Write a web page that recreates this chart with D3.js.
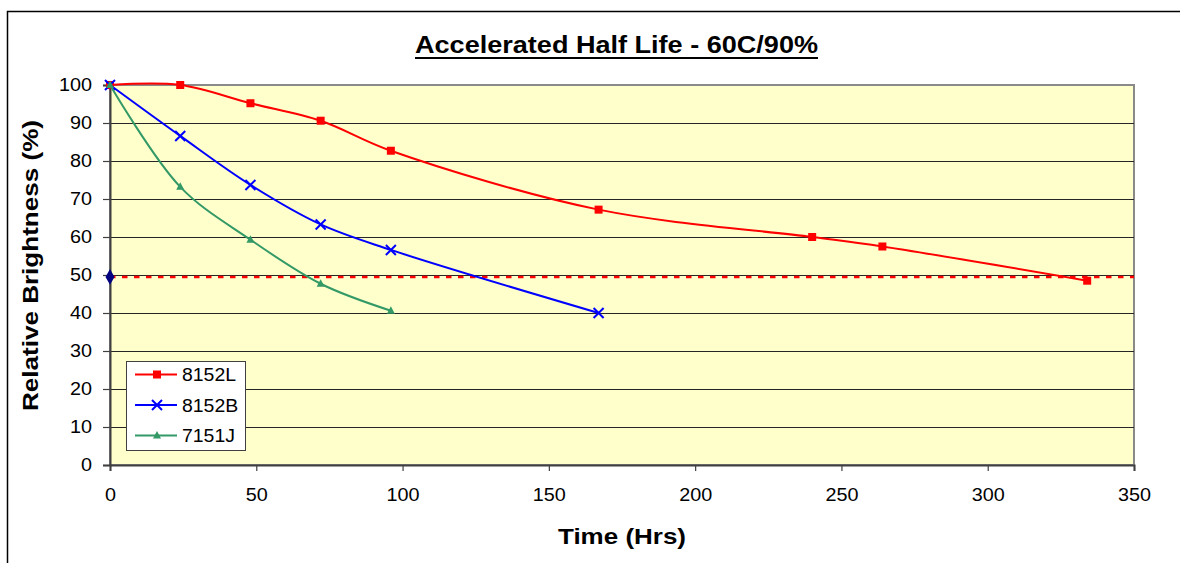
<!DOCTYPE html>
<html>
<head>
<meta charset="utf-8">
<script src="https://cdn.jsdelivr.net/npm/d3@7"></script>
<style>
  html, body { margin: 0; padding: 0; background: #fff; }
  svg { display: block; font-family: "Liberation Sans", Arial, sans-serif; }
</style>
</head>
<body>
<svg id="chart" width="1184" height="563"></svg>
<script>
// Brightness readings (%) against time (hours) for each part
const hours8152L = [0, 24, 48, 72, 96, 167, 240, 264, 334];
const values8152L = [100, 100, 95.2, 90.6, 82.7, 67.2, 60, 57.5, 48.5];

const hours8152B = [0, 24, 48, 72, 96, 167];
const values8152B = [100, 86.6, 73.7, 63.3, 56.6, 40];

const hours7151J = [0, 24, 48, 72, 96];
const values7151J = [100, 73.2, 59.3, 47.7, 40.6];

const seriesNames = ["8152L", "8152B", "7151J"];
const seriesColors = ["#FF0000", "#0000FF", "#339966"];
const seriesMarkers = ["square", "cross", "triangle"];

// Half-brightness reference level
const halfLife = 49.5;

const xTicks = [0, 50, 100, 150, 200, 250, 300, 350];
const yTicks = [0, 10, 20, 30, 40, 50, 60, 70, 80, 90, 100];

const titleText = "Accelerated Half Life - 60C/90%";
const xLabel = "Time (Hrs)";
const yLabel = "Relative Brightness (%)";

const series = [
  { name: seriesNames[0], xs: hours8152L, ys: values8152L },
  { name: seriesNames[1], xs: hours8152B, ys: values8152B },
  { name: seriesNames[2], xs: hours7151J, ys: values7151J }
].map((s, i) => ({
  ...s,
  color: seriesColors[i],
  marker: seriesMarkers[i],
  points: s.xs.map((x, j) => [x, s.ys[j]])
}));

const svg = d3.select("#chart");
const plot = { left: 110, top: 85, right: 1134, bottom: 465 };

const x = d3.scaleLinear().domain([0, 350]).range([plot.left, plot.right]);
const y = d3.scaleLinear().domain([0, 100]).range([plot.bottom, plot.top]);

// Text in this chart is set slightly wide
function widen(sel, factor) {
  sel.each(function () {
    const w = this.getComputedTextLength();
    d3.select(this).attr("textLength", w * factor).attr("lengthAdjust", "spacingAndGlyphs");
  });
}

// Chart area frame
svg.append("path")
  .attr("d", "M7.5,563V11.5H1180")
  .attr("fill", "none").attr("stroke", "#000").attr("stroke-width", 1.5);

// Plot area
svg.append("rect")
  .attr("x", plot.left).attr("y", plot.top)
  .attr("width", plot.right - plot.left).attr("height", plot.bottom - plot.top)
  .attr("fill", "#FFFFCC").attr("stroke", "#8a8a8a").attr("stroke-width", 2);

// Horizontal gridlines
svg.append("g")
  .selectAll("line")
  .data(yTicks.filter(t => t > 0 && t < 100))
  .join("line")
  .attr("x1", plot.left).attr("x2", plot.right)
  .attr("y1", d => Math.round(y(d)) + 0.5).attr("y2", d => Math.round(y(d)) + 0.5)
  .attr("stroke", "#262626").attr("stroke-width", 1.2);

// Axes
const yAxis = svg.append("g")
  .attr("transform", `translate(${plot.left},0)`)
  .call(d3.axisLeft(y).tickValues(yTicks).tickSize(7).tickPadding(11).tickFormat(d3.format("d")));
const xAxis = svg.append("g")
  .attr("transform", `translate(0,${plot.bottom})`)
  .call(d3.axisBottom(x).tickValues(xTicks).tickSize(6).tickPadding(17).tickFormat(d3.format("d")));

[yAxis, xAxis].forEach(g => {
  g.select(".domain").attr("stroke", "#404040").attr("stroke-width", 2);
  g.selectAll(".tick line").attr("stroke", "#404040").attr("stroke-width", 1.2);
  g.selectAll(".tick text")
    .attr("fill", "#000")
    .style("font-size", "18px")
    .style("font-family", "'Liberation Sans', Arial, sans-serif");
  widen(g.selectAll(".tick text"), 1.1);
});

// Half-life reference line
svg.append("line")
  .attr("x1", plot.left).attr("x2", plot.right)
  .attr("y1", y(halfLife)).attr("y2", y(halfLife))
  .attr("stroke", "#FF0000").attr("stroke-width", 2.5)
  .attr("stroke-dasharray", "5.5,6.5");

svg.append("path")
  .attr("d", d3.symbol(d3.symbolDiamond, 70)())
  .attr("transform", `translate(${x(0)},${y(halfLife)})`)
  .attr("fill", "#000080");

// Smoothed series lines
const line = d3.line()
  .x(d => x(d[0]))
  .y(d => y(d[1]))
  .curve(d3.curveCatmullRom.alpha(0.5));

function drawMarker(g, type, color, cx, cy) {
  if (type === "square") {
    g.append("rect")
      .attr("x", cx - 4).attr("y", cy - 4)
      .attr("width", 8).attr("height", 8)
      .attr("fill", color);
  } else if (type === "cross") {
    g.append("path")
      .attr("d", `M${cx - 5},${cy - 5}L${cx + 5},${cy + 5}M${cx - 5},${cy + 5}L${cx + 5},${cy - 5}`)
      .attr("stroke", color).attr("stroke-width", 2).attr("fill", "none");
  } else {
    g.append("path")
      .attr("d", `M${cx},${cy - 4.5}L${cx + 4},${cy + 3}L${cx - 4},${cy + 3}Z`)
      .attr("fill", color);
  }
}

series.forEach(s => {
  const g = svg.append("g");
  g.append("path")
    .datum(s.points)
    .attr("d", line)
    .attr("fill", "none")
    .attr("stroke", s.color)
    .attr("stroke-width", 2);
  s.points.forEach(p => drawMarker(g, s.marker, s.color, x(p[0]), y(p[1])));
});

// Legend
const legend = svg.append("g").attr("transform", "translate(126,361)");
legend.append("rect")
  .attr("x", 0.5).attr("y", 0.5).attr("width", 119).attr("height", 89)
  .attr("fill", "#fff").attr("stroke", "#404040").attr("stroke-width", 1);
series.forEach((s, i) => {
  const cy = 13.5 + i * 30.5;
  legend.append("line")
    .attr("x1", 9).attr("x2", 51).attr("y1", cy).attr("y2", cy)
    .attr("stroke", s.color).attr("stroke-width", 2);
  drawMarker(legend, s.marker, s.color, 31, cy);
  const t = legend.append("text")
    .attr("x", 56).attr("y", cy + 6.5)
    .style("font-size", "18px")
    .text(s.name);
  widen(t, 1.08);
});

// Title and axis titles
const titleX = 616.5;
svg.append("text")
  .attr("x", titleX).attr("y", 52.5)
  .attr("text-anchor", "middle")
  .style("font-size", "23px").style("font-weight", "bold")
  .text(titleText)
  .attr("textLength", 403).attr("lengthAdjust", "spacingAndGlyphs");
svg.append("line")
  .attr("x1", titleX - 201.5).attr("x2", titleX + 201.5)
  .attr("y1", 58).attr("y2", 58)
  .attr("stroke", "#000").attr("stroke-width", 2);

svg.append("text")
  .attr("x", 622).attr("y", 544)
  .attr("text-anchor", "middle")
  .style("font-size", "22px").style("font-weight", "bold")
  .text(xLabel)
  .attr("textLength", 128).attr("lengthAdjust", "spacingAndGlyphs");

svg.append("text")
  .attr("transform", "translate(38,265.5) rotate(-90)")
  .attr("text-anchor", "middle")
  .style("font-size", "22px").style("font-weight", "bold")
  .text(yLabel)
  .attr("textLength", 291).attr("lengthAdjust", "spacingAndGlyphs");
</script>
</body>
</html>
